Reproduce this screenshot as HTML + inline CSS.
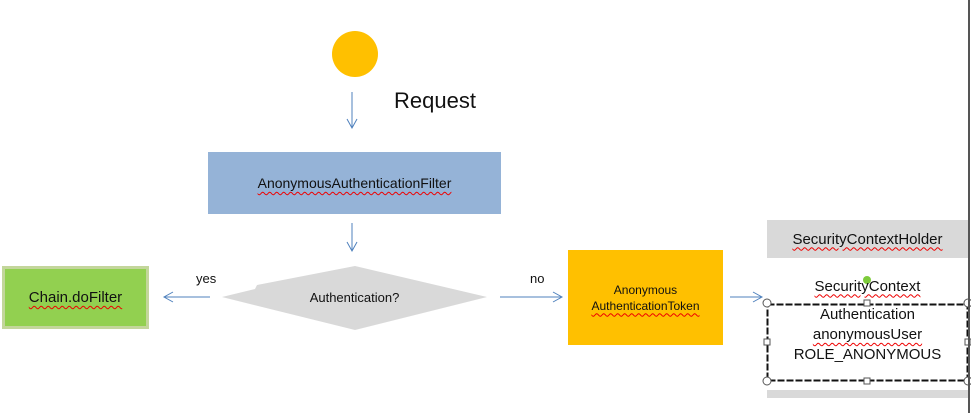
<!DOCTYPE html>
<html><head><style>
body{margin:0;width:971px;height:413px;background:#fff;position:relative;overflow:hidden;font-family:"Liberation Sans",sans-serif;}
.a{position:absolute;box-sizing:border-box;display:flex;align-items:center;justify-content:center;text-align:center;color:#111;}
.u{text-decoration:underline wavy #e00;text-decoration-thickness:1px;text-underline-offset:3px;}
</style></head><body>
<svg width="971" height="413" style="position:absolute;left:0;top:0">
<defs><marker id="m" markerWidth="12" markerHeight="12" refX="10" refY="6" orient="auto" markerUnits="userSpaceOnUse"><path d="M1,1 L10,6 L1,11" fill="none" stroke="#4F81BD" stroke-width="1"/></marker></defs>
<circle cx="355" cy="54" r="23" fill="#FFC000"/>
<g stroke="#4F81BD" stroke-width="1" marker-end="url(#m)">
<line x1="352" y1="92" x2="352" y2="128"/>
<line x1="352" y1="223" x2="352" y2="251"/>
<line x1="210" y1="297" x2="164" y2="297"/>
<line x1="500" y1="297" x2="562" y2="297"/>
<line x1="730" y1="297" x2="762" y2="297"/>
</g>
<polygon points="222,297 255,289 257,285 355,266 487,297 355,330" fill="#D9D9D9"/>
<rect x="767" y="390" width="201" height="8" fill="#D9D9D9"/>
<rect x="767.5" y="304.5" width="200" height="76" fill="#fff" stroke="#111" stroke-width="2" stroke-dasharray="7,2"/>
<g fill="#fff" stroke="#555" stroke-width="1">
<circle cx="767" cy="303" r="4"/><circle cx="968" cy="303" r="4"/><circle cx="767" cy="381" r="4"/><circle cx="968" cy="381" r="4"/>
<rect x="864" y="300" width="6" height="6"/><rect x="864" y="378" width="6" height="6"/><rect x="764" y="339" width="6" height="6"/><rect x="965" y="339" width="6" height="6"/>
</g>
<circle cx="867" cy="280" r="4" fill="#7DCB3B"/>
<line x1="969" y1="0" x2="969" y2="413" stroke="#555" stroke-width="2"/>
</svg>
<div class="a" style="left:394;top:88px;left:394px;font-size:22px;">Request</div>
<div class="a" style="left:208px;top:152px;width:293px;height:62px;background:#95B3D7;font-size:14px;"><span class="u">AnonymousAuthenticationFilter</span></div>
<div class="a" style="left:2px;top:266px;width:147px;height:63px;background:#92D050;border:3px solid #C3D69B;font-size:15px;"><span class="u">Chain.doFilter</span></div>
<div class="a" style="left:222px;top:287px;width:265px;height:20px;font-size:13px;">Authentication?</div>
<div class="a" style="left:196px;top:271px;font-size:13px;">yes</div>
<div class="a" style="left:530px;top:271px;font-size:13px;">no</div>
<div class="a" style="left:568px;top:250px;width:155px;height:95px;background:#FFC000;font-size:12px;line-height:16px;"><span>Anonymous<br><span class="u">AuthenticationToken</span></span></div>
<div class="a" style="left:767px;top:220px;width:201px;height:38px;background:#D9D9D9;font-size:15px;"><span class="u">SecurityContextHolder</span></div>
<div class="a" style="left:767px;top:276px;width:201px;height:20px;font-size:15px;"><span class="u">SecurityContext</span></div>
<div class="a" style="left:767px;top:305px;width:201px;height:60px;font-size:15px;line-height:20px;"><span>Authentication<br><span class="u">anonymousUser</span><br>ROLE_ANONYMOUS</span></div>
</body></html>
